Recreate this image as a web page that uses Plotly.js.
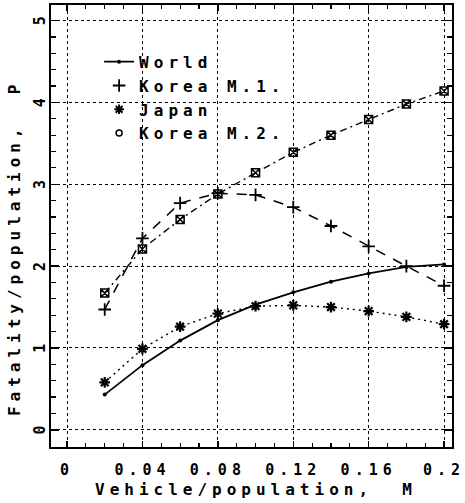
<!DOCTYPE html>
<html><head><meta charset="utf-8">
<script src="https://cdn.plot.ly/plotly-3.0.1.min.js"></script>
<style>
html,body{margin:0;padding:0;background:#fff;}
text{letter-spacing:5px;}
</style>
</head><body>
<div id="chart" style="width:465px;height:503px;"></div>
<script>
var xVals = [0.02, 0.04, 0.06, 0.08, 0.10, 0.12, 0.14, 0.16, 0.18, 0.20];
var world = [0.43, 0.79, 1.09, 1.34, 1.53, 1.68, 1.81, 1.91, 1.99, 2.02];
var koreaM1 = [1.47, 2.34, 2.77, 2.89, 2.87, 2.72, 2.49, 2.24, 2.00, 1.76];
var japan = [0.58, 0.99, 1.26, 1.42, 1.51, 1.52, 1.50, 1.45, 1.38, 1.29];
var koreaM2 = [1.67, 2.21, 2.57, 2.88, 3.14, 3.39, 3.60, 3.79, 3.98, 4.14];
var xTicks = [0, 0.04, 0.08, 0.12, 0.16, 0.2];
var xTickText = ['0', '0.04', '0.08', '0.12', '0.16', '0.2'];
var yTicks = [0, 1, 2, 3, 4, 5];
var seriesNames = ['World', 'Korea M.1.', 'Japan', 'Korea M.2.'];

var FONT = 'DejaVu Sans Mono, monospace';
var traces = [
  {x: xVals, y: world, name: seriesNames[0], mode: 'lines+markers',
   line: {color: 'black', width: 1.8, dash: 'solid'},
   marker: {symbol: 'circle', size: 4, color: 'black'}},
  {x: xVals, y: koreaM1, name: seriesNames[1], mode: 'lines+markers', showlegend: false,
   line: {color: 'black', width: 1.5, dash: '10px,9px'},
   marker: {symbol: 'cross-thin-open', size: 9, color: 'black', line: {color: 'black', width: 1.8}}},
  {x: [null], y: [null], name: seriesNames[1], mode: 'markers',
   marker: {symbol: 'cross-thin-open', size: 9, color: 'black', line: {color: 'black', width: 1.8}}},
  {x: xVals, y: japan, name: seriesNames[2], mode: 'lines+markers', showlegend: false,
   line: {color: 'black', width: 1.4, dash: '2px,4px'},
   marker: {symbol: 'asterisk-open', size: 9, color: 'black', line: {color: 'black', width: 2.2}}},
  {x: [null], y: [null], name: seriesNames[2], mode: 'markers',
   marker: {symbol: 'asterisk-open', size: 8, color: 'black', line: {color: 'black', width: 2}}},
  {x: xVals, y: koreaM2, name: seriesNames[3], mode: 'lines+markers', showlegend: false,
   line: {color: 'black', width: 1.4, dash: '7px,4px,2px,4px'},
   marker: {symbol: 'square-x-open', size: 8, color: 'black', line: {color: 'black', width: 1.5}}},
  {x: [null], y: [null], name: seriesNames[3], mode: 'markers',
   marker: {symbol: 'circle-open', size: 6, color: 'black', line: {color: 'black', width: 1.5}}}
];

var layout = {
  width: 465, height: 503,
  margin: {l: 51, r: 13, t: 5, b: 56, pad: 0},
  paper_bgcolor: 'white', plot_bgcolor: 'white',
  font: {family: FONT, size: 16, color: 'black', weight: 'bold'},
  showlegend: true,
  legend: {x: 0.12, y: 0.91, xanchor: 'left', yanchor: 'top', bgcolor: 'rgba(0,0,0,0)',
           borderwidth: 0, font: {family: FONT, size: 16, color: 'black', weight: 'bold'},
           itemwidth: 30, tracegroupgap: 0, traceorder: 'normal'},
  xaxis: {
    range: [-0.0085, 0.2042], tickmode: 'array', tickvals: xTicks, ticktext: xTickText,
    ticks: 'inside', ticklen: 6, tickwidth: 1.5, tickcolor: 'black',
    showline: true, linecolor: 'black', linewidth: 2, mirror: 'allticks',
    showgrid: true, gridcolor: 'black', griddash: 'dot', gridwidth: 1,
    zeroline: false, ticklabelstandoff: 8, ticklabeloverflow: 'allow',
    tickfont: {family: FONT, size: 15, color: 'black', weight: 'bold'},
    minor: {dtick: 0.01, tick0: 0, ticks: 'inside', ticklen: 4, tickwidth: 1.2, tickcolor: 'black', showgrid: false}
  },
  yaxis: {
    range: [-0.21, 5.19], tickmode: 'array', tickvals: yTicks,
    ticks: 'inside', ticklen: 8, tickwidth: 1.5, tickcolor: 'black',
    showline: true, linecolor: 'black', linewidth: 2, mirror: 'allticks',
    showgrid: true, gridcolor: 'black', griddash: 'dot', gridwidth: 1,
    zeroline: false, tickangle: -90, ticklabelstandoff: -2, ticklabeloverflow: 'allow',
    tickfont: {family: FONT, size: 15, color: 'black', weight: 'bold'},
    minor: {dtick: 0.2, tick0: 0, ticks: 'inside', ticklen: 5, tickwidth: 1.2, tickcolor: 'black', showgrid: false}
  },
  annotations: [
    {text: 'Vehicle/population,\u00a0\u00a0M', xref: 'paper', yref: 'paper', x: 0.51, y: 0,
     yshift: -42, xanchor: 'center', yanchor: 'middle', showarrow: false,
     font: {family: FONT, size: 16, color: 'black', weight: 'bold'}},
    {text: 'Fatality/population,\u00a0\u00a0P', xref: 'paper', yref: 'paper', x: 0, y: 0.45,
     xshift: -37, xanchor: 'center', yanchor: 'middle', textangle: -90, showarrow: false,
     font: {family: FONT, size: 16, color: 'black', weight: 'bold'}}
  ]
};

Plotly.newPlot('chart', traces, layout, {displayModeBar: false, staticPlot: true});
</script>
</body></html>
